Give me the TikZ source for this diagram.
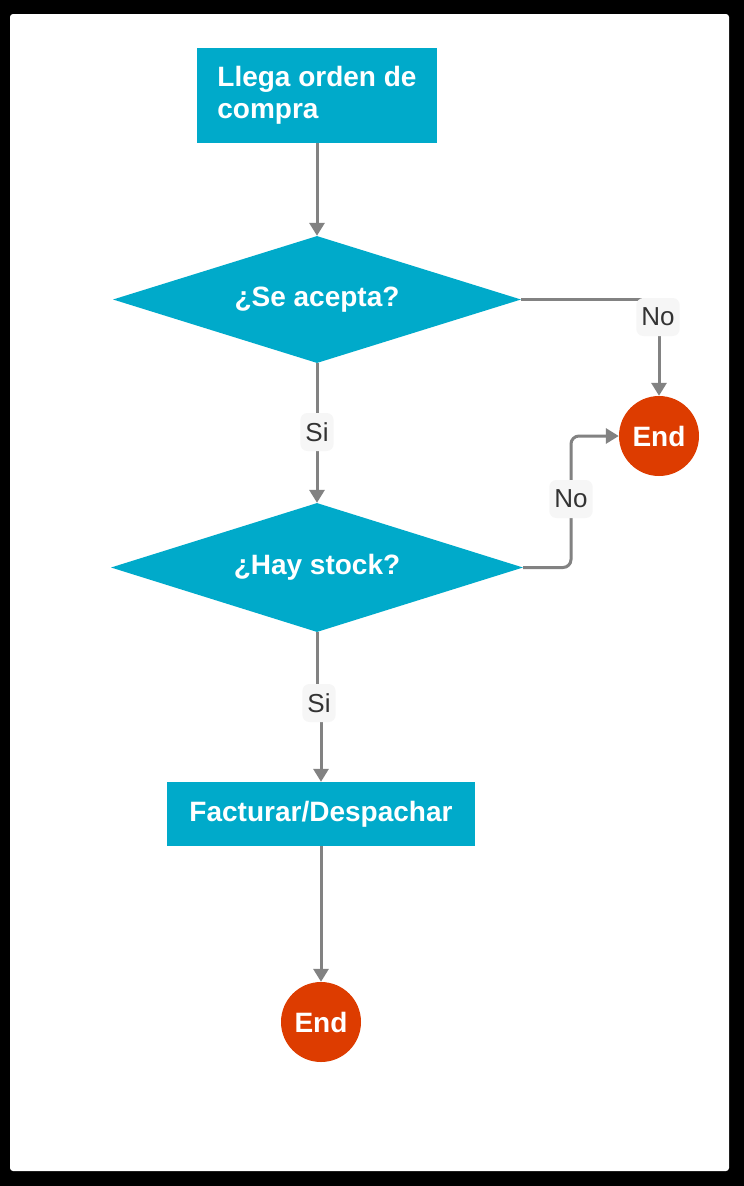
\documentclass[tikz,border=0pt]{standalone}
\usepackage{fontspec}
\setmainfont{Liberation Sans}
\usetikzlibrary{arrows.meta,shapes.geometric,calc,positioning}
\definecolor{boxcyan}{HTML}{00AACA}
\definecolor{endred}{HTML}{DD3C00}
\definecolor{flowgray}{HTML}{828282}
\definecolor{lblfill}{HTML}{F6F6F6}
\definecolor{lbltext}{HTML}{333333}
\tikzset{
  procbox/.style={rectangle, fill=boxcyan, text=white, font=\fontsize{28}{32}\selectfont\bfseries},
  decide/.style={diamond, aspect=3.2, fill=boxcyan, text=white, inner sep=0pt, minimum width=408pt, minimum height=127pt, font=\fontsize{28}{32}\selectfont\bfseries},
  endnode/.style={circle, fill=endred, text=white, minimum size=80pt, inner sep=0pt, font=\fontsize{28}{32}\selectfont\bfseries},
  flow/.style={draw=flowgray, line width=3pt, -{Triangle[length=13pt,width=15pt]}},
  lbl/.style={fill=lblfill, text=lbltext, rounded corners=7pt, inner sep=5pt, minimum height=38pt, font=\fontsize{26}{30}\selectfont}
}
\begin{document}
\begin{tikzpicture}[x=1pt,y=-1pt]
\useasboundingbox (0,0) rectangle (744,1186);
\fill[black] (0,0) rectangle (744,1186);
\fill[white, rounded corners=3pt] (10,14) rectangle (729,1171);
% shapes
\node[procbox, minimum width=240pt, minimum height=95pt, align=left, inner sep=0pt] (order) at (317,95.5) {Llega orden de\\compra};
\node[decide] (accept) at (317,299.5) {¿Se acepta?};
\node[decide, minimum width=412pt, minimum height=129pt] (stock) at (317,567.5) {¿Hay stock?};
\node[procbox, minimum width=308pt, minimum height=64pt] (bill) at (321,814) {Facturar/Despachar};
\node[endnode] (endA) at (659,436) {End};
\node[endnode] (endB) at (321,1022) {End};
% connectors
\coordinate (turn) at (571,436);
\coordinate (siB) at (319,703);
\draw[flow] (order) -- (accept);
\draw[flow] (accept.east) -| (endA.north);
\draw[flow] (accept) -- (stock);
\draw[flow, rounded corners=8pt] (stock.east) -| (turn) -- (endA.west);
\draw[flow] (stock.south) -- (stock.south |- siB) -- (bill.north |- siB) -- (bill.north);
\draw[flow] (bill) -- (endB);
% labels
\node[lbl] (noA) at (658,317) {No};
\node[lbl] (siA) at (317,432) {Si};
\node[lbl] (noB) at (571,499) {No};
\node[lbl] at (siB) {Si};
\end{tikzpicture}
\end{document}
